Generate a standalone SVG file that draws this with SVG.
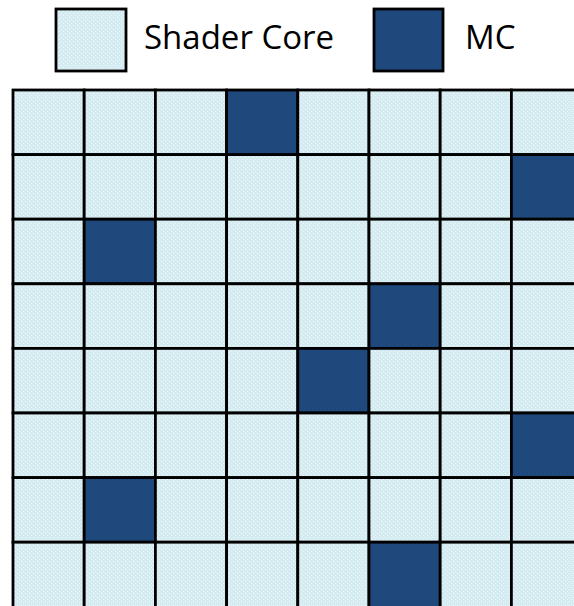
<svg xmlns="http://www.w3.org/2000/svg" width="574" height="606" viewBox="0 0 574 606">
<style>
.sc{fill:url(#dots);stroke:#000;stroke-width:2.8}
.mc{fill:#1f497d;stroke:#000;stroke-width:2.8}
.lbl{font-family:"Open Sans","Noto Sans",sans-serif;font-size:33px;fill:#000}
</style>
<defs>
<pattern id="dots" width="4" height="4" patternUnits="userSpaceOnUse">
<rect width="4" height="4" fill="#d5ebf2"/>
<rect x="1" y="1" width="1" height="1" fill="#f2fafc"/>
<rect x="3" y="3" width="1" height="1" fill="#eef8fb"/>
</pattern>
</defs>
<rect width="574" height="606" fill="#fff"/>
<g id="legend">
<g id="legend-shader"><rect class="sc" x="56" y="9" width="70" height="62"/><text class="lbl" x="144" y="49">Shader Core</text></g>
<g id="legend-mc"><rect class="mc" x="374" y="9" width="69" height="62"/><text class="lbl" x="465" y="49">MC</text></g>
</g>
<g id="grid">
<g id="r0c0"><rect class="sc" x="13" y="90" width="71.2" height="64.6"/></g>
<g id="r0c1"><rect class="sc" x="84.2" y="90" width="71.2" height="64.6"/></g>
<g id="r0c2"><rect class="sc" x="155.4" y="90" width="71.2" height="64.6"/></g>
<g id="r0c3"><rect class="mc" x="226.6" y="90" width="71.2" height="64.6"/></g>
<g id="r0c4"><rect class="sc" x="297.8" y="90" width="71.2" height="64.6"/></g>
<g id="r0c5"><rect class="sc" x="369" y="90" width="71.2" height="64.6"/></g>
<g id="r0c6"><rect class="sc" x="440.2" y="90" width="71.2" height="64.6"/></g>
<g id="r0c7"><rect class="sc" x="511.4" y="90" width="71.2" height="64.6"/></g>

<g id="r1c0"><rect class="sc" x="13" y="154.6" width="71.2" height="64.6"/></g>
<g id="r1c1"><rect class="sc" x="84.2" y="154.6" width="71.2" height="64.6"/></g>
<g id="r1c2"><rect class="sc" x="155.4" y="154.6" width="71.2" height="64.6"/></g>
<g id="r1c3"><rect class="sc" x="226.6" y="154.6" width="71.2" height="64.6"/></g>
<g id="r1c4"><rect class="sc" x="297.8" y="154.6" width="71.2" height="64.6"/></g>
<g id="r1c5"><rect class="sc" x="369" y="154.6" width="71.2" height="64.6"/></g>
<g id="r1c6"><rect class="sc" x="440.2" y="154.6" width="71.2" height="64.6"/></g>
<g id="r1c7"><rect class="mc" x="511.4" y="154.6" width="71.2" height="64.6"/></g>

<g id="r2c0"><rect class="sc" x="13" y="219.2" width="71.2" height="64.6"/></g>
<g id="r2c1"><rect class="mc" x="84.2" y="219.2" width="71.2" height="64.6"/></g>
<g id="r2c2"><rect class="sc" x="155.4" y="219.2" width="71.2" height="64.6"/></g>
<g id="r2c3"><rect class="sc" x="226.6" y="219.2" width="71.2" height="64.6"/></g>
<g id="r2c4"><rect class="sc" x="297.8" y="219.2" width="71.2" height="64.6"/></g>
<g id="r2c5"><rect class="sc" x="369" y="219.2" width="71.2" height="64.6"/></g>
<g id="r2c6"><rect class="sc" x="440.2" y="219.2" width="71.2" height="64.6"/></g>
<g id="r2c7"><rect class="sc" x="511.4" y="219.2" width="71.2" height="64.6"/></g>

<g id="r3c0"><rect class="sc" x="13" y="283.8" width="71.2" height="64.6"/></g>
<g id="r3c1"><rect class="sc" x="84.2" y="283.8" width="71.2" height="64.6"/></g>
<g id="r3c2"><rect class="sc" x="155.4" y="283.8" width="71.2" height="64.6"/></g>
<g id="r3c3"><rect class="sc" x="226.6" y="283.8" width="71.2" height="64.6"/></g>
<g id="r3c4"><rect class="sc" x="297.8" y="283.8" width="71.2" height="64.6"/></g>
<g id="r3c5"><rect class="mc" x="369" y="283.8" width="71.2" height="64.6"/></g>
<g id="r3c6"><rect class="sc" x="440.2" y="283.8" width="71.2" height="64.6"/></g>
<g id="r3c7"><rect class="sc" x="511.4" y="283.8" width="71.2" height="64.6"/></g>

<g id="r4c0"><rect class="sc" x="13" y="348.4" width="71.2" height="64.6"/></g>
<g id="r4c1"><rect class="sc" x="84.2" y="348.4" width="71.2" height="64.6"/></g>
<g id="r4c2"><rect class="sc" x="155.4" y="348.4" width="71.2" height="64.6"/></g>
<g id="r4c3"><rect class="sc" x="226.6" y="348.4" width="71.2" height="64.6"/></g>
<g id="r4c4"><rect class="mc" x="297.8" y="348.4" width="71.2" height="64.6"/></g>
<g id="r4c5"><rect class="sc" x="369" y="348.4" width="71.2" height="64.6"/></g>
<g id="r4c6"><rect class="sc" x="440.2" y="348.4" width="71.2" height="64.6"/></g>
<g id="r4c7"><rect class="sc" x="511.4" y="348.4" width="71.2" height="64.6"/></g>

<g id="r5c0"><rect class="sc" x="13" y="413" width="71.2" height="64.6"/></g>
<g id="r5c1"><rect class="sc" x="84.2" y="413" width="71.2" height="64.6"/></g>
<g id="r5c2"><rect class="sc" x="155.4" y="413" width="71.2" height="64.6"/></g>
<g id="r5c3"><rect class="sc" x="226.6" y="413" width="71.2" height="64.6"/></g>
<g id="r5c4"><rect class="sc" x="297.8" y="413" width="71.2" height="64.6"/></g>
<g id="r5c5"><rect class="sc" x="369" y="413" width="71.2" height="64.6"/></g>
<g id="r5c6"><rect class="sc" x="440.2" y="413" width="71.2" height="64.6"/></g>
<g id="r5c7"><rect class="mc" x="511.4" y="413" width="71.2" height="64.6"/></g>

<g id="r6c0"><rect class="sc" x="13" y="477.6" width="71.2" height="64.6"/></g>
<g id="r6c1"><rect class="mc" x="84.2" y="477.6" width="71.2" height="64.6"/></g>
<g id="r6c2"><rect class="sc" x="155.4" y="477.6" width="71.2" height="64.6"/></g>
<g id="r6c3"><rect class="sc" x="226.6" y="477.6" width="71.2" height="64.6"/></g>
<g id="r6c4"><rect class="sc" x="297.8" y="477.6" width="71.2" height="64.6"/></g>
<g id="r6c5"><rect class="sc" x="369" y="477.6" width="71.2" height="64.6"/></g>
<g id="r6c6"><rect class="sc" x="440.2" y="477.6" width="71.2" height="64.6"/></g>
<g id="r6c7"><rect class="sc" x="511.4" y="477.6" width="71.2" height="64.6"/></g>

<g id="r7c0"><rect class="sc" x="13" y="542.2" width="71.2" height="66"/></g>
<g id="r7c1"><rect class="sc" x="84.2" y="542.2" width="71.2" height="66"/></g>
<g id="r7c2"><rect class="sc" x="155.4" y="542.2" width="71.2" height="66"/></g>
<g id="r7c3"><rect class="sc" x="226.6" y="542.2" width="71.2" height="66"/></g>
<g id="r7c4"><rect class="sc" x="297.8" y="542.2" width="71.2" height="66"/></g>
<g id="r7c5"><rect class="mc" x="369" y="542.2" width="71.2" height="66"/></g>
<g id="r7c6"><rect class="sc" x="440.2" y="542.2" width="71.2" height="66"/></g>
<g id="r7c7"><rect class="sc" x="511.4" y="542.2" width="71.2" height="66"/></g>
</g>
</svg>
